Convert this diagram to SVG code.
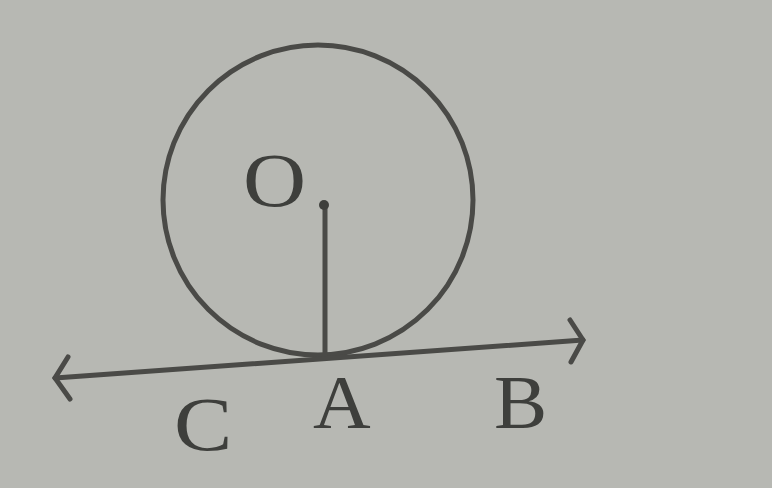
<svg xmlns="http://www.w3.org/2000/svg" width="772" height="488" viewBox="0 0 772 488">
<style>
.ln{stroke:#4a4a47;stroke-width:5;fill:none;stroke-linecap:round}
.lb{font-family:"Liberation Serif",serif;font-size:76px;fill:#3e3f3c}
</style>
<rect width="772" height="488" fill="#b7b8b3"/>
<g id="circle"><circle class="ln" cx="318" cy="200" r="155"/></g>
<g id="connectors">
<line class="ln" x1="325" y1="205" x2="325" y2="357"/>
<line class="ln" x1="55" y1="378" x2="583" y2="340"/>
<polyline class="ln" points="68,357 55,378 70,399"/>
<polyline class="ln" points="570,320 583,340 571,362"/>
</g>
<g id="O"><circle cx="324" cy="205" r="5" fill="#3e3f3c"/><text class="lb" x="243" y="206" transform="translate(243 206) scale(1.15 1) translate(-243 -206)">O</text></g>
<g id="C"><text class="lb" x="174" y="450" transform="translate(174 450) scale(1.15 1) translate(-174 -450)">C</text></g>
<g id="A"><text class="lb" x="313" y="428" transform="translate(313 428) scale(1.05 1) translate(-313 -428)">A</text></g>
<g id="B"><text class="lb" x="494" y="428" transform="translate(494 428) scale(1.05 1) translate(-494 -428)">B</text></g>
</svg>
